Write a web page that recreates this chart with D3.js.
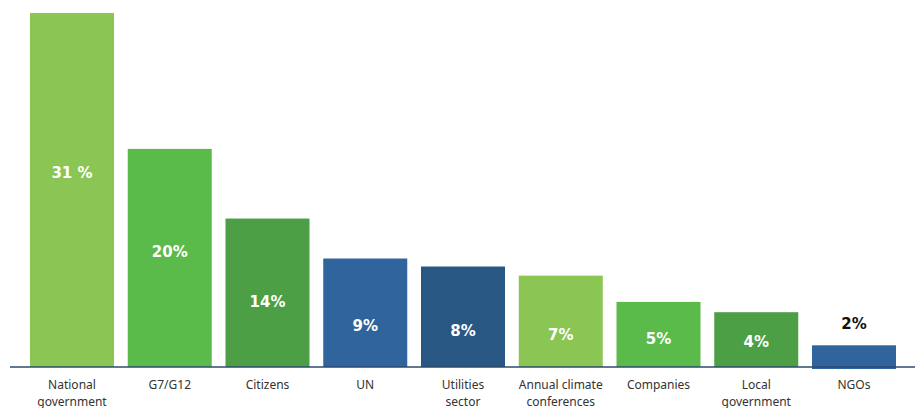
<!DOCTYPE html>
<html>
<head>
<meta charset="utf-8">
<script src="https://cdn.jsdelivr.net/npm/d3@7"></script>
<style>
  html, body { margin: 0; padding: 0; background: #fff; }
  svg { display: block; }
</style>
</head>
<body>
<div id="chart"></div>
<script>
// categories (line breaks as in the original)
const categories = [
  ["National", "government"],
  ["G7/G12"],
  ["Citizens"],
  ["UN"],
  ["Utilities", "sector"],
  ["Annual climate", "conferences"],
  ["Companies"],
  ["Local", "government"],
  ["NGOs"]
];
// bar heights as drawn (percent)
const values = [31, 19.1, 13.0, 9.5, 8.8, 8.0, 5.7, 4.8, 1.9];
// printed labels
const valueLabels = ["31 %", "20%", "14%", "9%", "8%", "7%", "5%", "4%", "2%"];
const barColors = ["#8bc554", "#5aba4a", "#4c9f45", "#2f649d", "#285783",
                   "#8bc554", "#5aba4a", "#4c9f45", "#2f649d"];

const width = 918, height = 408;
const baseline = 367;

const svg = d3.select("#chart").append("svg")
  .attr("width", width)
  .attr("height", height);

const x = d3.scaleBand()
  .domain(d3.range(categories.length))
  .range([30, 896])
  .paddingInner(0.1407)
  .paddingOuter(0);

const y = d3.scaleLinear()
  .domain([0, 31])
  .range([baseline, 13]);

// label placement inside the bar, as a share of the bar height
const labelLift = [0.55, 0.53, 0.44, 0.385, 0.36, 0.35, 0.43, 0.46];

svg.append("g")
  .selectAll("rect")
  .data(values)
  .join("rect")
  .attr("x", (d, i) => x(i))
  .attr("y", d => y(d))
  .attr("width", x.bandwidth())
  .attr("height", (d, i) => baseline - y(d) + (i === values.length - 1 ? 2 : 0))
  .attr("fill", (d, i) => barColors[i]);

// baseline
svg.append("line")
  .attr("x1", 10).attr("x2", 915)
  .attr("y1", baseline).attr("y2", baseline)
  .attr("stroke", "#2c4a6e")
  .attr("stroke-width", 1.5);

// value labels
svg.append("g")
  .selectAll("text")
  .data(values)
  .join("text")
  .attr("x", (d, i) => x(i) + x.bandwidth() / 2)
  .attr("y", (d, i) => {
    if (i < labelLift.length) return baseline - (baseline - y(d)) * labelLift[i];
    return y(d) - 22;
  })
  .attr("dy", "0.36em")
  .attr("text-anchor", "middle")
  .attr("font-family", "DejaVu Sans, Verdana, sans-serif")
  .attr("font-weight", "bold")
  .attr("font-size", "15px")
  .attr("fill", (d, i) => i < labelLift.length ? "#fff" : "#111")
  .text((d, i) => valueLabels[i]);

// category labels
const cat = svg.append("g")
  .selectAll("text")
  .data(categories)
  .join("text")
  .attr("x", (d, i) => x(i) + x.bandwidth() / 2)
  .attr("y", 389)
  .attr("text-anchor", "middle")
  .attr("font-family", "Noto Sans, sans-serif")
  .attr("font-size", "12px")
  .attr("fill", "#333");

cat.selectAll("tspan")
  .data(d => d)
  .join("tspan")
  .attr("x", function () { return this.parentNode.getAttribute("x"); })
  .attr("dy", (d, i) => i === 0 ? 0 : 17)
  .text(d => d);
</script>
</body>
</html>
